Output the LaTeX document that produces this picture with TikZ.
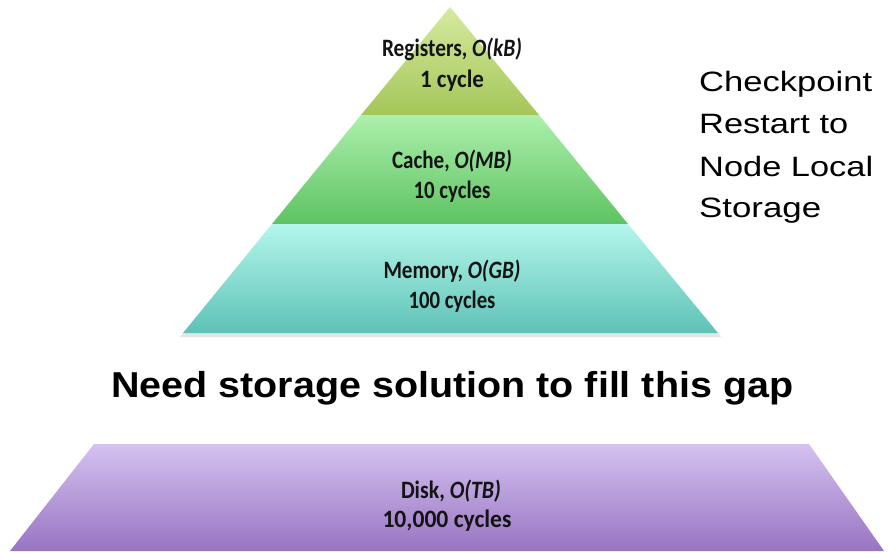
\documentclass[tikz,border=0pt]{standalone}
\usepackage{fontspec}
\usepackage{graphicx}
\setmainfont{Carlito}
\newfontfamily\arialf{Liberation Sans}
\newcommand\fitx[2]{\resizebox{#1pt}{\height}{#2}}
\begin{document}
\begin{tikzpicture}[x=1pt,y=-1pt,
  lbl/.style={inner sep=0pt,anchor=base,text=black!92,font=\bfseries\fontsize{25}{30}\selectfont},
  sidetxt/.style={inner sep=0pt,anchor=base west,font=\arialf\fontsize{28}{30}\selectfont},
  gaptxt/.style={inner sep=0pt,anchor=base west,font=\arialf\bfseries\fontsize{36}{40}\selectfont}]
\useasboundingbox (0,0) rectangle (888,551);
\fill[white] (0,0) rectangle (888,551);
% memory shadow
\fill[black,opacity=0.10] (272,228) -- (630,228) -- (721,337) -- (180,337) -- cycle;
% Registers
\shade[top color={rgb,255:red,214;green,234;blue,160},bottom color={rgb,255:red,164;green,198;blue,88}]
  (450,7) -- (539,115) -- (361,115) -- cycle;
% Cache
\shade[top color={rgb,255:red,172;green,240;blue,172},bottom color={rgb,255:red,94;green,194;blue,98}]
  (361,115) -- (539,115) -- (628,224) -- (272,224) -- cycle;
% Memory
\shade[top color={rgb,255:red,180;green,246;blue,236},bottom color={rgb,255:red,94;green,194;blue,182}]
  (272,224) -- (628,224) -- (718,333) -- (183,333) -- cycle;
% Disk
\shade[top color={rgb,255:red,212;green,194;blue,240},bottom color={rgb,255:red,152;green,116;blue,194}]
  (94,444) -- (809,444) -- (884,551) -- (10,551) -- cycle;

\node[lbl] (r1) at (452,57) {\fitx{140}{Registers, \textit{O(kB)}}};
\node[lbl] (r2) at (452,88) {\fitx{64}{1 cycle}};
\node[lbl] (c1) at (452,168) {\fitx{120}{Cache, \textit{O(MB)}}};
\node[lbl] (c2) at (452,198) {\fitx{77}{10 cycles}};
\node[lbl] (m1) at (452,278) {\fitx{137}{Memory, \textit{O(GB)}}};
\node[lbl] (m2) at (452,308) {\fitx{87}{100 cycles}};
\node[lbl] (d1) at (451,498) {\fitx{100}{Disk, \textit{O(TB)}}};
\node[lbl] (d2) at (447,527) {\fitx{129}{10,000 cycles}};

\node[sidetxt] (s1) at (699,92) {\fitx{173}{Checkpoint}};
\node[sidetxt] (s2) at (699,133) {\fitx{149}{Restart to}};
\node[sidetxt] (s3) at (699,176) {\fitx{174}{Node Local}};
\node[sidetxt] (s4) at (699,217) {\fitx{122}{Storage}};

\node[gaptxt] (gap) at (111,397) {\fitx{682}{Need storage solution to fill this gap}};
\end{tikzpicture}
\end{document}
